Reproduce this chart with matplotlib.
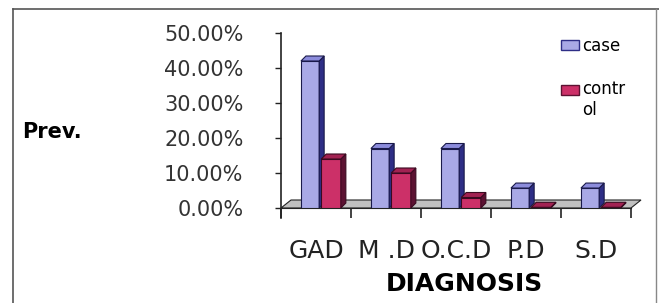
import matplotlib
matplotlib.use("Agg")
import matplotlib.pyplot as plt
from matplotlib.patches import Polygon, Patch, Rectangle
from matplotlib.lines import Line2D
from matplotlib.legend_handler import HandlerPatch
import numpy as np

categories = ["GAD", "M .D", "O.C.D", "P.D", "S.D"]
case = [0.42, 0.17, 0.17, 0.057, 0.057]
control = [0.14, 0.10, 0.03, 0.002, 0.002]
yticks = [0.0, 0.1, 0.2, 0.3, 0.4, 0.5]
series_names = ["case", "contr\nol"]

W, H = 659, 303
fig = plt.figure(figsize=(W / 100, H / 100), dpi=100)
plt.rcParams['font.family'] = ['DejaVu Sans']

# outer frame
fig.add_artist(Line2D([13 / W, 13 / W], [0, 1 - 9 / H], color="#555555", lw=1.2, transform=fig.transFigure))
fig.add_artist(Line2D([13 / W, 1], [1 - 9 / H, 1 - 9 / H], color="#555555", lw=1.2, transform=fig.transFigure))
fig.add_artist(Line2D([656 / W, 656 / W], [0, 1 - 9 / H], color="#888888", lw=1.0, transform=fig.transFigure))

ax_left, ax_right = 281, 641
ax_bot, ax_top = 208, 33
ax = fig.add_axes([ax_left / W, (H - ax_bot) / H, (ax_right - ax_left) / W, (ax_bot - ax_top) / H])
px_per_unit = 70.0
ax.set_xlim(-0.5, -0.5 + (ax_right - ax_left) / px_per_unit)
ax.set_ylim(0, 0.5)
ax.patch.set_alpha(0)

y_per_px = 0.5 / (ax_bot - ax_top)
x_per_px = 1 / px_per_unit

for s in ["top", "right", "left"]:
    ax.spines[s].set_visible(False)
ax.spines["bottom"].set_bounds(-0.5, 4.5)
ax.spines["bottom"].set_color("#222222")

# y axis line (extends a bit below floor)
ax.plot([-0.5, -0.5], [-10 * y_per_px, 0.5], color="#222222", lw=1.2, clip_on=False, zorder=5)

# floor
fdx, fdy = 10 * x_per_px, 8 * y_per_px
floor = Polygon([(-0.5, 0), (4.5, 0), (4.5 + fdx, fdy), (-0.5 + fdx, fdy)], closed=True,
                facecolor="#c0c0c0", edgecolor="#222222", lw=0.8, zorder=1, clip_on=False)
ax.add_patch(floor)

x = np.arange(len(categories))
ddx, ddy = 5 * x_per_px, 5 * y_per_px

def bar3d(xc, vals, width, front, side, top, edge):
    bars = ax.bar(xc, vals, width=width, color=front, edgecolor=edge, lw=0.8, zorder=3)
    for b, v in zip(bars, vals):
        l = b.get_x()
        r = l + b.get_width()
        ax.add_patch(Polygon([(r, 0), (r + ddx, ddy), (r + ddx, v + ddy), (r, v)], closed=True,
                             facecolor=side, edgecolor=edge, lw=0.8, zorder=3, clip_on=False))
        ax.add_patch(Polygon([(l, v), (r, v), (r + ddx, v + ddy), (l + ddx, v + ddy)], closed=True,
                             facecolor=top, edgecolor=edge, lw=0.8, zorder=3, clip_on=False))

bar3d(x - 0.085, case, 0.26, "#a9a9e6", "#2e2e86", "#8c8cdc", "#1a1a4a")
bar3d(x + 0.215, control, 0.28, "#cc3068", "#5c1232", "#a22252", "#3a0a20")

# ticks
ax.set_yticks(yticks)
ax.set_yticklabels([f"{v * 100:.2f}%" for v in yticks], fontsize=15, color="#333333")
ax.tick_params(axis="y", length=4, width=1, pad=23, color="#222222")
ax.set_xticks(x)
ax.set_xticklabels(categories, fontsize=18, color="#222222")
ax.tick_params(axis="x", which="major", length=0, pad=22)
ax.set_xticks(np.arange(-0.5, 5.0, 1.0), minor=True)
ax.tick_params(axis="x", which="minor", length=7, width=1.2, color="#222222")

fig.text(22 / W, 1 - 132 / H, "Prev.", fontsize=15, fontweight="bold", ha="left", va="center")
fig.text(464 / W, 1 - 284 / H, "DIAGNOSIS", fontsize=18, fontweight="bold", ha="center", va="center")

# legend: handle aligned with first line of a wrapped label
def make_handle(shift):
    def f(legend, orig_handle, xdescent, ydescent, width, height, fontsize):
        return Rectangle((-xdescent, -ydescent + shift * fontsize), width, height)
    return f

h_case = Patch(facecolor="#a9a9e6", edgecolor="#2e2e86")
h_ctrl = Patch(facecolor="#cc3068", edgecolor="#5c1232")
fig.legend([h_case, h_ctrl], series_names, loc="upper left", bbox_to_anchor=(561 / W, 1 - 37 / H),
           frameon=False, fontsize=12, handlelength=1.1, handleheight=0.5, handletextpad=0.15,
           labelspacing=1.5, borderpad=0, borderaxespad=0,
           handler_map={h_case: HandlerPatch(patch_func=make_handle(0.0)),
                        h_ctrl: HandlerPatch(patch_func=make_handle(0.62))})

fig.savefig("out.png", dpi=100)
